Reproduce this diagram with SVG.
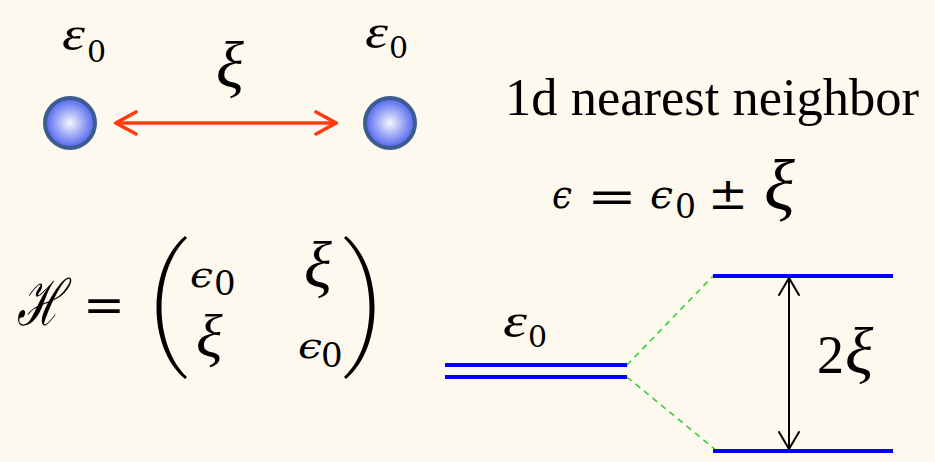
<svg xmlns="http://www.w3.org/2000/svg" width="935" height="462" viewBox="0 0 935 462">
<defs>
<radialGradient id="ball" cx="0.5" cy="0.5" r="0.5">
<stop offset="0" stop-color="#F4F6FF"/>
<stop offset="1" stop-color="#4F63EE"/>
</radialGradient>
<marker id="redHead" viewBox="0 0 24 26" refX="22" refY="13" markerWidth="24" markerHeight="26" markerUnits="userSpaceOnUse" orient="auto-start-reverse">
<path d="M2,2 L22,13 L2,24" fill="none" stroke="#FF3B0F" stroke-width="3.6" stroke-linecap="round" stroke-linejoin="miter"/>
</marker>
<marker id="blackHead" viewBox="0 0 20 22" refX="18" refY="11" markerWidth="20" markerHeight="22" markerUnits="userSpaceOnUse" orient="auto-start-reverse">
<path d="M1,1 L18,11 L1,21" fill="none" stroke="#000" stroke-width="2" stroke-linecap="round" stroke-linejoin="miter"/>
</marker>
</defs>
<style>
.ball{fill:url(#ball);stroke:#3A5C8E;stroke-width:4}
.eps{font-family:"Liberation Serif","DejaVu Serif",serif;font-style:italic;font-size:48px;fill:#000}
.sub{font-family:"DejaVu Serif","Liberation Serif",serif;font-size:30px;fill:#000}
.math{font-family:"DejaVu Serif","Liberation Serif",serif;font-style:italic;fill:#000}
.xi{font-family:"Liberation Serif","DejaVu Serif",serif;font-style:italic;fill:#000}
.rm{font-family:"DejaVu Serif","Liberation Serif",serif;fill:#000}
.level{stroke:#0000FF;stroke-width:4;fill:none}
.dash{stroke:#3CCB3C;stroke-width:1.6;stroke-dasharray:6,5;fill:none}
</style>
<rect width="935" height="462" fill="#FDF9EE"/>

<g id="site-left">
<circle class="ball" cx="70" cy="123" r="25"/>
<text class="eps" x="62" y="50" textLength="23" lengthAdjust="spacingAndGlyphs">ε</text><text class="sub" x="87" y="62">0</text>
</g>
<g id="site-right">
<circle class="ball" cx="390" cy="123" r="25"/>
<text class="eps" x="365" y="48" textLength="23" lengthAdjust="spacingAndGlyphs">ε</text><text class="sub" x="389" y="58">0</text>
</g>

<g id="connectors">
<line x1="116" y1="123" x2="336" y2="123" stroke="#FF3B0F" stroke-width="3.6" marker-start="url(#redHead)" marker-end="url(#redHead)"/>
<line x1="789" y1="278" x2="789" y2="449" stroke="#000" stroke-width="2" marker-start="url(#blackHead)" marker-end="url(#blackHead)"/>
<line class="dash" x1="627" y1="365" x2="713" y2="276"/>
<line class="dash" x1="627" y1="377" x2="717" y2="451"/>
</g>

<text class="xi" x="216" y="87" font-size="65">ξ</text>

<text x="505" y="115" font-family="Liberation Serif,serif" font-size="52.5" fill="#000">1d nearest neighbor</text>

<g id="energy-eq">
<text class="math" x="552" y="208" font-size="40" textLength="20" lengthAdjust="spacingAndGlyphs">ϵ</text>
<text class="rm" x="587" y="212" font-size="44" textLength="50" lengthAdjust="spacingAndGlyphs">=</text>
<text class="math" x="650" y="208" font-size="40" textLength="23" lengthAdjust="spacingAndGlyphs">ϵ</text>
<text class="rm" x="675" y="218" font-size="33">0</text>
<text class="rm" x="708" y="209" font-size="44" textLength="40" lengthAdjust="spacingAndGlyphs">±</text>
<text class="xi" x="764" y="210" font-size="72">ξ</text>
</g>

<g id="hamiltonian">
<text class="math" x="17" y="325" font-size="64" textLength="46" lengthAdjust="spacingAndGlyphs">ℋ</text>
<text class="rm" x="83" y="322" font-size="48" textLength="42" lengthAdjust="spacingAndGlyphs">=</text>
<path d="M185,236 C147,268 147,347 185,379 L187,377 C153,345 153,270 187,238 Z" fill="#000"/>
<path d="M346,236 C384,268 384,347 346,379 L344,377 C378,345 378,270 344,238 Z" fill="#000"/>
<text class="math" x="190" y="287" font-size="36" textLength="23" lengthAdjust="spacingAndGlyphs">ϵ</text>
<text class="rm" x="214" y="295" font-size="34">0</text>
<text class="xi" x="304" y="287" font-size="65">ξ</text>
<text class="xi" x="196" y="357" font-size="62">ξ</text>
<text class="math" x="298" y="358" font-size="36" textLength="24" lengthAdjust="spacingAndGlyphs">ϵ</text>
<text class="rm" x="321" y="367" font-size="34">0</text>
</g>

<g id="levels">
<line class="level" x1="445" y1="365" x2="627" y2="365"/>
<line class="level" x1="445" y1="377" x2="627" y2="377"/>
<line class="level" x1="713" y1="276" x2="893" y2="276"/>
<line class="level" x1="713" y1="451" x2="893" y2="451"/>
<text class="eps" x="503" y="337" font-size="50" textLength="24" lengthAdjust="spacingAndGlyphs">ε</text><text class="sub" x="528" y="347">0</text>
<text x="817" y="373" font-family="Liberation Serif,serif" font-size="54" fill="#000">2</text>
<text class="xi" x="845" y="373" font-size="66">ξ</text>
</g>
</svg>
